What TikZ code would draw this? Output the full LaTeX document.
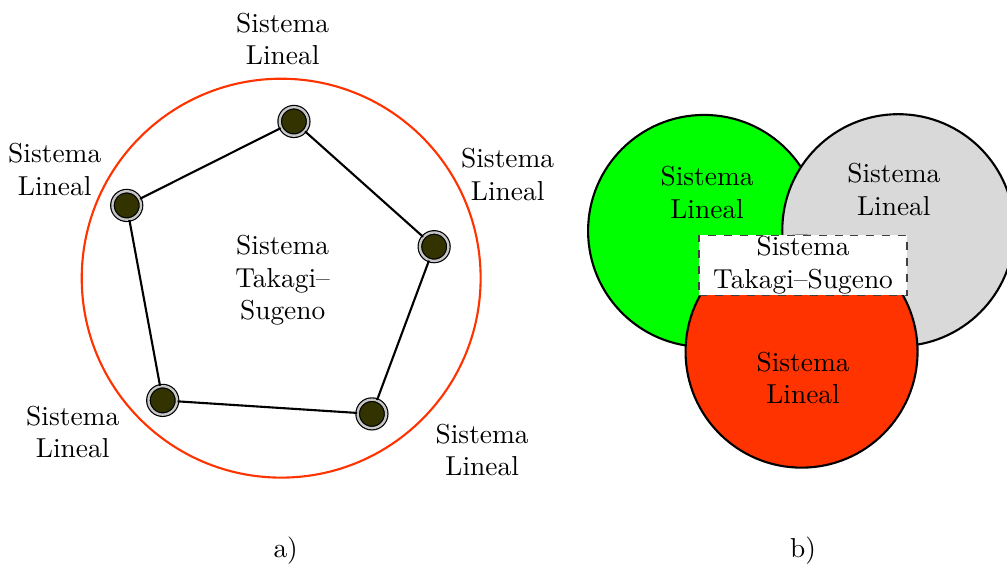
\documentclass[tikz,border=0pt]{standalone}
\usetikzlibrary{shapes.geometric}

\definecolor{rojo}{RGB}{255,51,0}
\definecolor{verde}{RGB}{0,255,0}
\definecolor{grisc}{RGB}{217,217,217}
\definecolor{oliva}{RGB}{51,51,0}

\begin{document}
\begin{tikzpicture}[font=\fontsize{10.4}{12.4}\selectfont,
    vertice/.style={circle, draw=black, line width=0.45pt, double=gray!45, double distance=0.9pt, fill=oliva, inner sep=0pt, minimum size=0.38cm},
    etiqueta/.style={align=center, inner sep=1pt},
    conjunto/.style={draw=black, thick}]
    \useasboundingbox (0,0) rectangle (13.43,7.57);
    % a) modelo de Takagi-Sugeno como poligono de sistemas lineales
    \draw[rojo, thick] (3.75,3.86) circle (2.66);
    \node[vertice] (v1) at (3.92,5.95) {};
    \node[vertice] (v2) at (5.79,4.28) {};
    \node[vertice] (v3) at (4.96,2.05) {};
    \node[vertice] (v4) at (2.17,2.23) {};
    \node[vertice] (v5) at (1.69,4.83) {};
    \foreach \a/\b in {v1/v2, v2/v3, v3/v4, v4/v5, v5/v1} { \draw[thick] (\a) -- (\b); }
    \node[etiqueta] (l1) at (3.77,7.05) {Sistema\\Lineal};
    \node[etiqueta] (l2) at (6.77,5.24) {Sistema\\Lineal};
    \node[etiqueta] (l3) at (6.43,1.57) {Sistema\\Lineal};
    \node[etiqueta] (l4) at (0.97,1.81) {Sistema\\Lineal};
    \node[etiqueta] (l5) at (0.73,5.31) {Sistema\\Lineal};
    \node[etiqueta] (ts) at (3.77,3.83) {Sistema\\Takagi--\\Sugeno};
    \node (a) at (3.81,0.23) {a)};
    % b) interseccion de los sistemas lineales
    \draw[conjunto, fill=verde] (9.39,4.49) circle (1.547);
    \draw[conjunto, fill=grisc] (11.98,4.50) circle (1.547);
    \draw[conjunto, fill=rojo] (10.69,2.88) circle (1.547);
    \node[etiqueta] (c1) at (9.43,5.00) {Sistema\\Lineal};
    \node[etiqueta] (c2) at (11.92,5.04) {Sistema\\Lineal};
    \node[etiqueta] (c3) at (10.71,2.53) {Sistema\\Lineal};
    \node[draw=black!75, dashed, semithick, fill=white, align=center, inner sep=0pt,
          minimum width=2.77cm, minimum height=0.8cm] (tsb) at (10.71,4.03) {Sistema\\Takagi--Sugeno};
    \node (b) at (10.71,0.23) {b)};
\end{tikzpicture}
\end{document}
